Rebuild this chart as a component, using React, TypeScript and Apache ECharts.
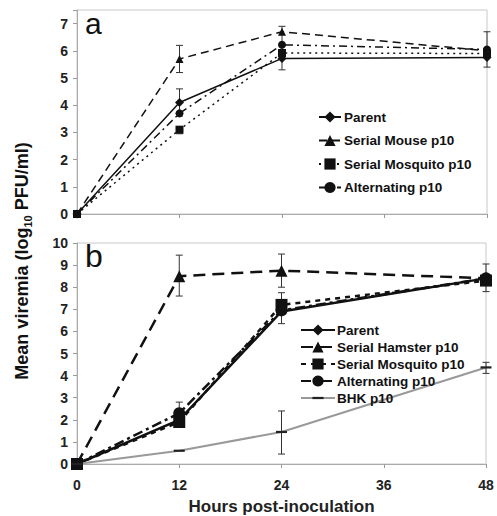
import React, { useEffect, useRef } from "react";
import * as echarts from "echarts";

const hours = [0, 12, 24, 48];

// Panel a
const aParent = [0, 4.1, 5.72, 5.75];
const aMouse = [0, 5.7, 6.7, 6.0];
const aMosquito = [0, 3.1, 5.92, 5.9];
const aAlternating = [0, 3.7, 6.22, 6.05];
const aErrors = [
  [12, 5.2, 6.2],
  [12, 3.6, 4.6],
  [12, 2.95, 3.2],
  [24, 5.3, 6.9],
  [48, 5.4, 6.7],
];

// Panel b
const bParent = [0, 2.0, 6.9, 8.4];
const bHamster = [0, 8.5, 8.75, 8.4];
const bMosquito = [0, 1.9, 7.2, 8.3];
const bAlternating = [0, 2.3, 6.95, 8.4];
const bBHK = [0, 0.6, 1.45, 4.37];
const bErrors = [
  [12, 7.6, 9.45],
  [12, 2.3, 2.8],
  [24, 8.0, 9.5],
  [24, 6.35, 7.75],
  [48, 7.8, 9.05],
  [24, 0.45, 2.4],
  [48, 4.1, 4.6],
];

const xTicks = [0, 12, 24, 36, 48];

const namesA = ["Parent", "Serial Mouse p10", "Serial Mosquito p10", "Alternating p10"];
const namesB = ["Parent", "Serial Hamster p10", "Serial Mosquito p10", "Alternating p10", "BHK p10"];

const pair = (ys: number[]) => hours.map((h, i) => [h, ys[i]]);

const FONT = "Liberation Sans, Arial, sans-serif";
const INK = "#111";
const DASH_SYMBOL = "path://M0,0M10,10M0,4L10,4L10,6L0,6Z";

function errSeries(data: number[][], gi: number) {
  return {
    type: "custom",
    xAxisIndex: gi,
    yAxisIndex: gi,
    silent: true,
    z: 1,
    data,
    encode: { x: 0, y: [1, 2] },
    renderItem: (params: any, api: any) => {
      const x = api.value(0);
      const lo = api.coord([x, api.value(1)]);
      const hi = api.coord([x, api.value(2)]);
      const w = 3.5;
      const st = { stroke: "#333", lineWidth: 1 };
      return {
        type: "group",
        children: [
          { type: "line", shape: { x1: lo[0], y1: lo[1], x2: hi[0], y2: hi[1] }, style: st },
          { type: "line", shape: { x1: lo[0] - w, y1: lo[1], x2: lo[0] + w, y2: lo[1] }, style: st },
          { type: "line", shape: { x1: hi[0] - w, y1: hi[1], x2: hi[0] + w, y2: hi[1] }, style: st },
        ],
      };
    },
  };
}

function lineSeries(name: string, ys: number[], gi: number, dash: any, symbol: string, size: any, width: number, color = INK, symColor = INK) {
  return {
    type: "line",
    name,
    xAxisIndex: gi,
    yAxisIndex: gi,
    data: pair(ys),
    symbol,
    symbolSize: size,
    showAllSymbol: true,
    z: 3,
    lineStyle: { color, width, type: dash },
    itemStyle: { color: symColor, borderWidth: 0 },
  };
}

export default function App() {
  const ref = useRef<HTMLDivElement>(null);
  useEffect(() => {
    document.body.style.margin = "0";
    const chart = echarts.init(ref.current!, null, { renderer: "svg" });
    const axisLine = { show: true, lineStyle: { color: "#aaa", width: 1 } };
    const tick = { show: true, length: 4, lineStyle: { color: "#999" } };
    const yLabel = {
      fontFamily: FONT,
      fontWeight: "bold",
      fontSize: 14,
      color: "#222",
      margin: 9,
      formatter: (v: number) => (Number.isInteger(v) ? String(v) : ""),
    };
    const option: any = {
      animation: false,
      backgroundColor: "#fff",
      grid: [
        { left: 77, top: 10, width: 410, height: 204, show: true, borderColor: "#c8c8c8", borderWidth: 1 },
        { left: 77, top: 243, width: 409, height: 222, show: true, borderColor: "#c8c8c8", borderWidth: 1 },
      ],
      xAxis: [
        {
          type: "value", gridIndex: 0, min: 0, max: 48, interval: 12,
          axisLine, axisTick: tick, axisLabel: { show: false }, splitLine: { show: false },
        },
        {
          type: "value", gridIndex: 1, min: 0, max: 48, interval: 12,
          axisLine, axisTick: tick, splitLine: { show: false },
          axisLabel: { fontFamily: FONT, fontWeight: "bold", fontSize: 14, color: "#222", margin: 14,
            formatter: (v: number) => (xTicks.includes(v) ? String(v) : "") },
          name: "Hours post-inoculation",
          nameLocation: "middle",
          nameGap: 34,
          nameTextStyle: { fontFamily: FONT, fontWeight: "bold", fontSize: 17, color: "#222" },
        },
      ],
      yAxis: [
        {
          type: "value", gridIndex: 0, min: 0, max: 7.5, interval: 1,
          axisLine, axisTick: tick, splitLine: { show: false }, axisLabel: yLabel,
        },
        {
          type: "value", gridIndex: 1, min: 0, max: 10, interval: 1,
          axisLine, axisTick: tick, splitLine: { show: false }, axisLabel: yLabel,
        },
      ],
      legend: [
        {
          orient: "vertical", left: 313, top: 105, itemWidth: 22, itemHeight: 14, itemGap: 9.5,
          data: namesA,
          textStyle: { fontFamily: FONT, fontWeight: "bold", fontSize: 13.5, color: "#111", padding: [0, 0, 0, -2] },
          selectedMode: false,
        },
        {
          orient: "vertical", left: 295, top: 318, itemWidth: 34, itemHeight: 14, itemGap: 3,
          data: namesB.map((n) =>
            n === "BHK p10"
              ? { name: "b: " + n, lineStyle: { color: "#999", width: 2 }, itemStyle: { color: "#222" } }
              : "b: " + n
          ),
          formatter: (n: string) => n.replace(/^b: /, ""),
          textStyle: { fontFamily: FONT, fontWeight: "bold", fontSize: 13.5, color: "#111", padding: [0, 0, 0, -3] },
          selectedMode: false,
        },
      ],
      graphic: [
        { type: "text", left: 85, top: 8, style: { text: "a", font: `30px ${FONT}`, fill: "#111" } },
        { type: "text", left: 85, top: 240, style: { text: "b", font: `32px ${FONT}`, fill: "#111" } },
        {
          type: "text",
          x: 22,
          y: 261,
          rotation: Math.PI / 2,
          style: {
            text: "{m|Mean viremia (log}{s|10}{m| PFU/ml)}",
            align: "center",
            verticalAlign: "middle",
            fill: "#111",
            rich: {
              m: { fontFamily: FONT, fontWeight: "bold", fontSize: 18, lineHeight: 22, verticalAlign: "middle" },
              s: { fontFamily: FONT, fontWeight: "bold", fontSize: 11, lineHeight: 22, verticalAlign: "bottom", padding: [8, 0, 0, 0] },
            },
          },
        },
      ],
      series: [
        errSeries(aErrors, 0),
        lineSeries("Parent", aParent, 0, "solid", "diamond", 9, 1.5),
        lineSeries("Serial Mouse p10", aMouse, 0, [8, 5], "triangle", 8, 1.5),
        lineSeries("Serial Mosquito p10", aMosquito, 0, [2, 4], "rect", 8, 1.5),
        lineSeries("Alternating p10", aAlternating, 0, [8, 4, 2, 4], "circle", 8, 1.5),
        errSeries(bErrors, 1),
        lineSeries("b: Parent", bParent, 1, "solid", "diamond", 10, 2.5),
        lineSeries("b: Serial Hamster p10", bHamster, 1, [12, 7], "triangle", 12, 2.5),
        lineSeries("b: Serial Mosquito p10", bMosquito, 1, [5, 5], "rect", 12, 2.5),
        lineSeries("b: Alternating p10", bAlternating, 1, [10, 4, 3, 4], "circle", 12, 2.5),
        lineSeries("b: BHK p10", bBHK, 1, "solid", DASH_SYMBOL, 11, 2, "#999", "#222"),
      ],
    };
    chart.setOption(option);
    return () => chart.dispose();
  }, []);
  return <div ref={ref} style={{ width: 497, height: 516 }} />;
}
